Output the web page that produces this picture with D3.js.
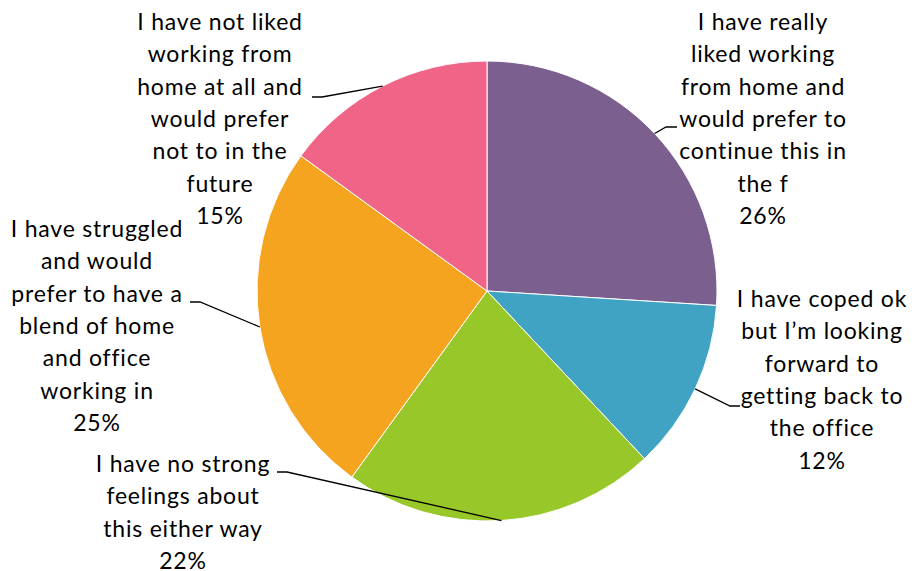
<!DOCTYPE html>
<html>
<head>
<meta charset="utf-8">
<script src="https://cdn.jsdelivr.net/npm/d3@7"></script>
<style>
  html, body { margin: 0; padding: 0; background: #fff; }
  svg { display: block; }
  text { font-family: Lato, "Open Sans", sans-serif; font-size: 23px; letter-spacing: 0.8px; fill: #000; }
</style>
</head>
<body>
<svg id="chart" width="912" height="571"></svg>
<script>
// Survey responses on working from home
const categories = [
  "I have really liked working from home and would prefer to continue this in the f",
  "I have coped ok but I\u2019m looking forward to getting back to the office",
  "I have no strong feelings about this either way",
  "I have struggled and would prefer to have a blend of home and office working in",
  "I have not liked working from home at all and would prefer not to in the future"
];
const values = [26, 12, 22, 25, 15];
const colors = ["#7b5f8f", "#40a3c3", "#98c72a", "#f4a41e", "#ef6487"];

// Label text as wrapped on the chart
const labelLines = [
  ["I have really", "liked working", "from home and", "would prefer to", "continue this in", "the f"],
  ["I have coped ok", "but I\u2019m looking", "forward to", "getting back to", "the office"],
  ["I have no strong", "feelings about", "this either way"],
  ["I have struggled", "and would", "prefer to have a", "blend of home", "and office", "working in"],
  ["I have not liked", "working from", "home at all and", "would prefer", "not to in the", "future"]
];
// Label block centre x, first baseline y, and leader elbow point
const labelX = [763, 822, 183, 97, 220];
const labelTop = [30, 307, 472, 237, 30];
const elbowA = [[666, 127], [730, 406], [287, 472], [200, 302], [322, 97]];
const elbowB = [[677, 127], [740, 406], [277, 472], [190, 302], [312, 97]];

const svg = d3.select("#chart");
const cx = 487, cy = 291, r = 230;
const lineH = 32.3;

const pie = d3.pie().sort(null).value(d => d)(values);
const arc = d3.arc().innerRadius(0).outerRadius(r);
const g = svg.append("g").attr("transform", `translate(${cx},${cy})`);

g.selectAll("path.slice")
  .data(pie)
  .join("path")
  .attr("class", "slice")
  .attr("d", arc)
  .attr("fill", (d, i) => colors[i])
  .attr("stroke", "#fff")
  .attr("stroke-width", 1);

// Leader lines from each slice's mid-angle on the rim
pie.forEach((d, i) => {
  const a = (d.startAngle + d.endAngle) / 2;
  const px = cx + r * Math.sin(a), py = cy - r * Math.cos(a);
  svg.append("polyline")
    .attr("points", [[px, py], elbowA[i], elbowB[i]].map(p => p.join(",")).join(" "))
    .attr("fill", "none")
    .attr("stroke", "#000")
    .attr("stroke-width", 1.3);
});

// Category labels with percentages
pie.forEach((d, i) => {
  const t = svg.append("text").attr("text-anchor", "middle");
  const lines = labelLines[i].concat([d3.format(".0f")(values[i]) + "%"]);
  lines.forEach((ln, j) => {
    t.append("tspan").attr("x", labelX[i]).attr("y", labelTop[i] + j * lineH).text(ln);
  });
});
</script>
</body>
</html>
